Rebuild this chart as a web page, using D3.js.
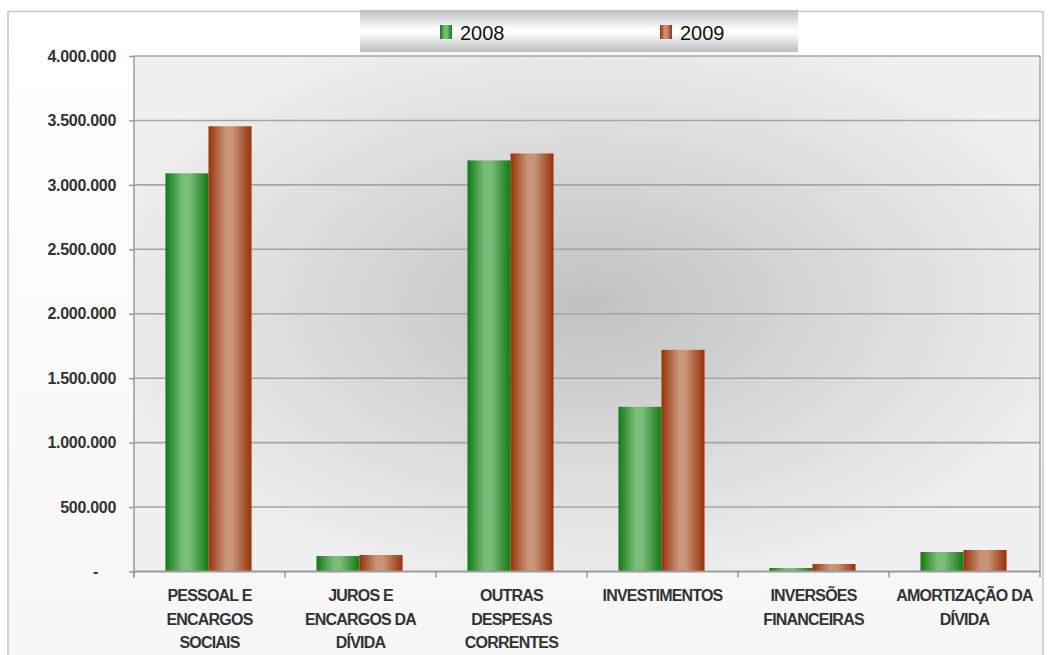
<!DOCTYPE html>
<html>
<head>
<meta charset="utf-8">
<script src="https://cdn.jsdelivr.net/npm/d3@7"></script>
<style>
  html, body { margin: 0; padding: 0; background: #ffffff; }
  svg { display: block; }
  text { font-family: "Liberation Sans", Arial, sans-serif; }
</style>
</head>
<body>
<svg id="chart" width="1049" height="655"></svg>
<script>
// Despesas por grupo de natureza (2008 x 2009)
const categories = [
  ["PESSOAL E", "ENCARGOS", "SOCIAIS"],
  ["JUROS E", "ENCARGOS DA", "DÍVIDA"],
  ["OUTRAS", "DESPESAS", "CORRENTES"],
  ["INVESTIMENTOS"],
  ["INVERSÕES", "FINANCEIRAS"],
  ["AMORTIZAÇÃO DA", "DÍVIDA"]
];
const seriesNames = ["2008", "2009"];
const values2008 = [3090000, 120000, 3190000, 1278000, 27000, 151000];
const values2009 = [3455000, 128000, 3244000, 1720000, 58000, 167000];
const yTicks = [0, 500000, 1000000, 1500000, 2000000, 2500000, 3000000, 3500000, 4000000];

const svg = d3.select("#chart");
const defs = svg.append("defs");

const ptBR = d3.formatLocale({ decimal: ",", thousands: ".", grouping: [3], currency: ["R$ ", ""] });
const fmt = v => v === 0 ? "-" : ptBR.format(",.0f")(v);

// plot geometry
const plot = { left: 134, right: 1040, top: 56, bottom: 571.5 };
const textColor = "#333333";

// gradients
const bg = defs.append("linearGradient").attr("id", "outerBg").attr("x1", 0).attr("y1", 0).attr("x2", 0).attr("y2", 1);
bg.append("stop").attr("offset", 0).attr("stop-color", "#ffffff");
bg.append("stop").attr("offset", 1).attr("stop-color", "#f6f6f6");

const plotBg = defs.append("radialGradient").attr("id", "plotBg")
  .attr("cx", 0.5).attr("cy", 0.48).attr("r", 0.58);
plotBg.append("stop").attr("offset", 0).attr("stop-color", "#c1c1c1");
plotBg.append("stop").attr("offset", 0.6).attr("stop-color", "#dedede");
plotBg.append("stop").attr("offset", 1).attr("stop-color", "#f0f0f0");

const legBg = defs.append("linearGradient").attr("id", "legBg").attr("x1", 0).attr("y1", 0).attr("x2", 0).attr("y2", 1);
legBg.append("stop").attr("offset", 0).attr("stop-color", "#bdbdbd");
legBg.append("stop").attr("offset", 0.45).attr("stop-color", "#fdfdfd");
legBg.append("stop").attr("offset", 0.55).attr("stop-color", "#fdfdfd");
legBg.append("stop").attr("offset", 1).attr("stop-color", "#bdbdbd");

function barGradient(id, edge, mid) {
  const g = defs.append("linearGradient").attr("id", id).attr("x1", 0).attr("y1", 0).attr("x2", 1).attr("y2", 0);
  g.append("stop").attr("offset", 0).attr("stop-color", edge);
  g.append("stop").attr("offset", 0.4).attr("stop-color", mid);
  g.append("stop").attr("offset", 0.55).attr("stop-color", mid);
  g.append("stop").attr("offset", 1).attr("stop-color", edge);
}
barGradient("gGreen", "#137a13", "#7abd7a");
barGradient("gBrown", "#983208", "#c9957a");
const fills = ["url(#gGreen)", "url(#gBrown)"];

// outer frame
svg.append("rect")
  .attr("x", 8).attr("y", 11.5).attr("width", 1035).attr("height", 660)
  .attr("fill", "url(#outerBg)").attr("stroke", "#c6c6c6").attr("stroke-width", 1.5);

// scales
const x = d3.scaleBand().domain(d3.range(categories.length))
  .range([plot.left, plot.right]).paddingInner(0.43).paddingOuter(0.215);
const xs = d3.scaleBand().domain(seriesNames).range([0, x.bandwidth()]);
const y = d3.scaleLinear().domain([0, 4000000]).range([plot.bottom, plot.top]);
const step = x.step();

// plot background
svg.append("rect")
  .attr("x", plot.left).attr("y", plot.top)
  .attr("width", plot.right - plot.left).attr("height", plot.bottom - plot.top)
  .attr("fill", "url(#plotBg)");

// gridlines
svg.append("g").selectAll("line").data(yTicks.filter(t => t > 0)).join("line")
  .attr("x1", plot.left).attr("x2", plot.right)
  .attr("y1", d => y(d)).attr("y2", d => y(d))
  .attr("stroke", "#a4a4a4").attr("stroke-width", 1.6);

// right border of the plot
svg.append("line")
  .attr("x1", plot.right).attr("x2", plot.right)
  .attr("y1", plot.top).attr("y2", plot.bottom)
  .attr("stroke", "#a4a4a4").attr("stroke-width", 1.5);

// bars
const series = [values2008, values2009];
const gBars = svg.append("g");
categories.forEach((c, i) => {
  seriesNames.forEach((s, k) => {
    const v = series[k][i];
    gBars.append("rect")
      .attr("x", x(i) + xs(s) - 1)
      .attr("y", y(v))
      .attr("width", xs.bandwidth())
      .attr("height", y(0) - y(v))
      .attr("fill", fills[k]);
  });
});

// y axis
const yAxis = svg.append("g").attr("transform", `translate(${plot.left},0)`)
  .call(d3.axisLeft(y).tickValues(yTicks).tickFormat(fmt).tickSize(5).tickPadding(13));
yAxis.select(".domain").attr("stroke", "#9a9a9a").attr("stroke-width", 1.5)
  .attr("d", `M0,${plot.top}V${plot.bottom + 6}`);
yAxis.selectAll(".tick line").attr("stroke", "#9a9a9a").attr("stroke-width", 1.5);
yAxis.selectAll(".tick text")
  .attr("fill", textColor).attr("font-size", 16).attr("font-weight", "bold")
  .attr("letter-spacing", "-0.3px")
  .attr("font-family", "'Liberation Sans', Arial, sans-serif");
yAxis.selectAll(".tick").filter(d => d === 0).select("text").attr("dx", -18);

// x axis line and category separators
svg.append("line")
  .attr("x1", plot.left).attr("x2", plot.right)
  .attr("y1", plot.bottom).attr("y2", plot.bottom)
  .attr("stroke", "#9a9a9a").attr("stroke-width", 2);
const boundaries = d3.range(categories.length + 1).map(i => plot.left + i * step);
svg.append("g").selectAll("line").data(boundaries).join("line")
  .attr("x1", d => d).attr("x2", d => d)
  .attr("y1", plot.bottom).attr("y2", plot.bottom + 6)
  .attr("stroke", "#9a9a9a").attr("stroke-width", 1.5);

// category labels
const gLab = svg.append("g");
categories.forEach((lines, i) => {
  const cx = plot.left + (i + 0.5) * step;
  const t = gLab.append("text")
    .attr("x", cx)
    .attr("y", 601)
    .attr("text-anchor", "middle")
    .attr("fill", textColor).attr("font-size", 16).attr("font-weight", "bold")
    .attr("letter-spacing", "-0.8px");
  lines.forEach((ln, j) => {
    t.append("tspan").attr("x", cx).attr("y", 601 + j * 23.5).text(ln);
  });
});

// legend
const leg = svg.append("g");
leg.append("rect").attr("x", 360).attr("y", 10).attr("width", 438).attr("height", 42)
  .attr("fill", "url(#legBg)");
const legX = [440, 660];
seriesNames.forEach((s, k) => {
  leg.append("rect").attr("x", legX[k]).attr("y", 25).attr("width", 12).attr("height", 14)
    .attr("fill", fills[k]);
  leg.append("text").attr("x", legX[k] + 20).attr("y", 40)
    .attr("font-size", 20).attr("fill", "#111").text(s);
});
</script>
</body>
</html>
